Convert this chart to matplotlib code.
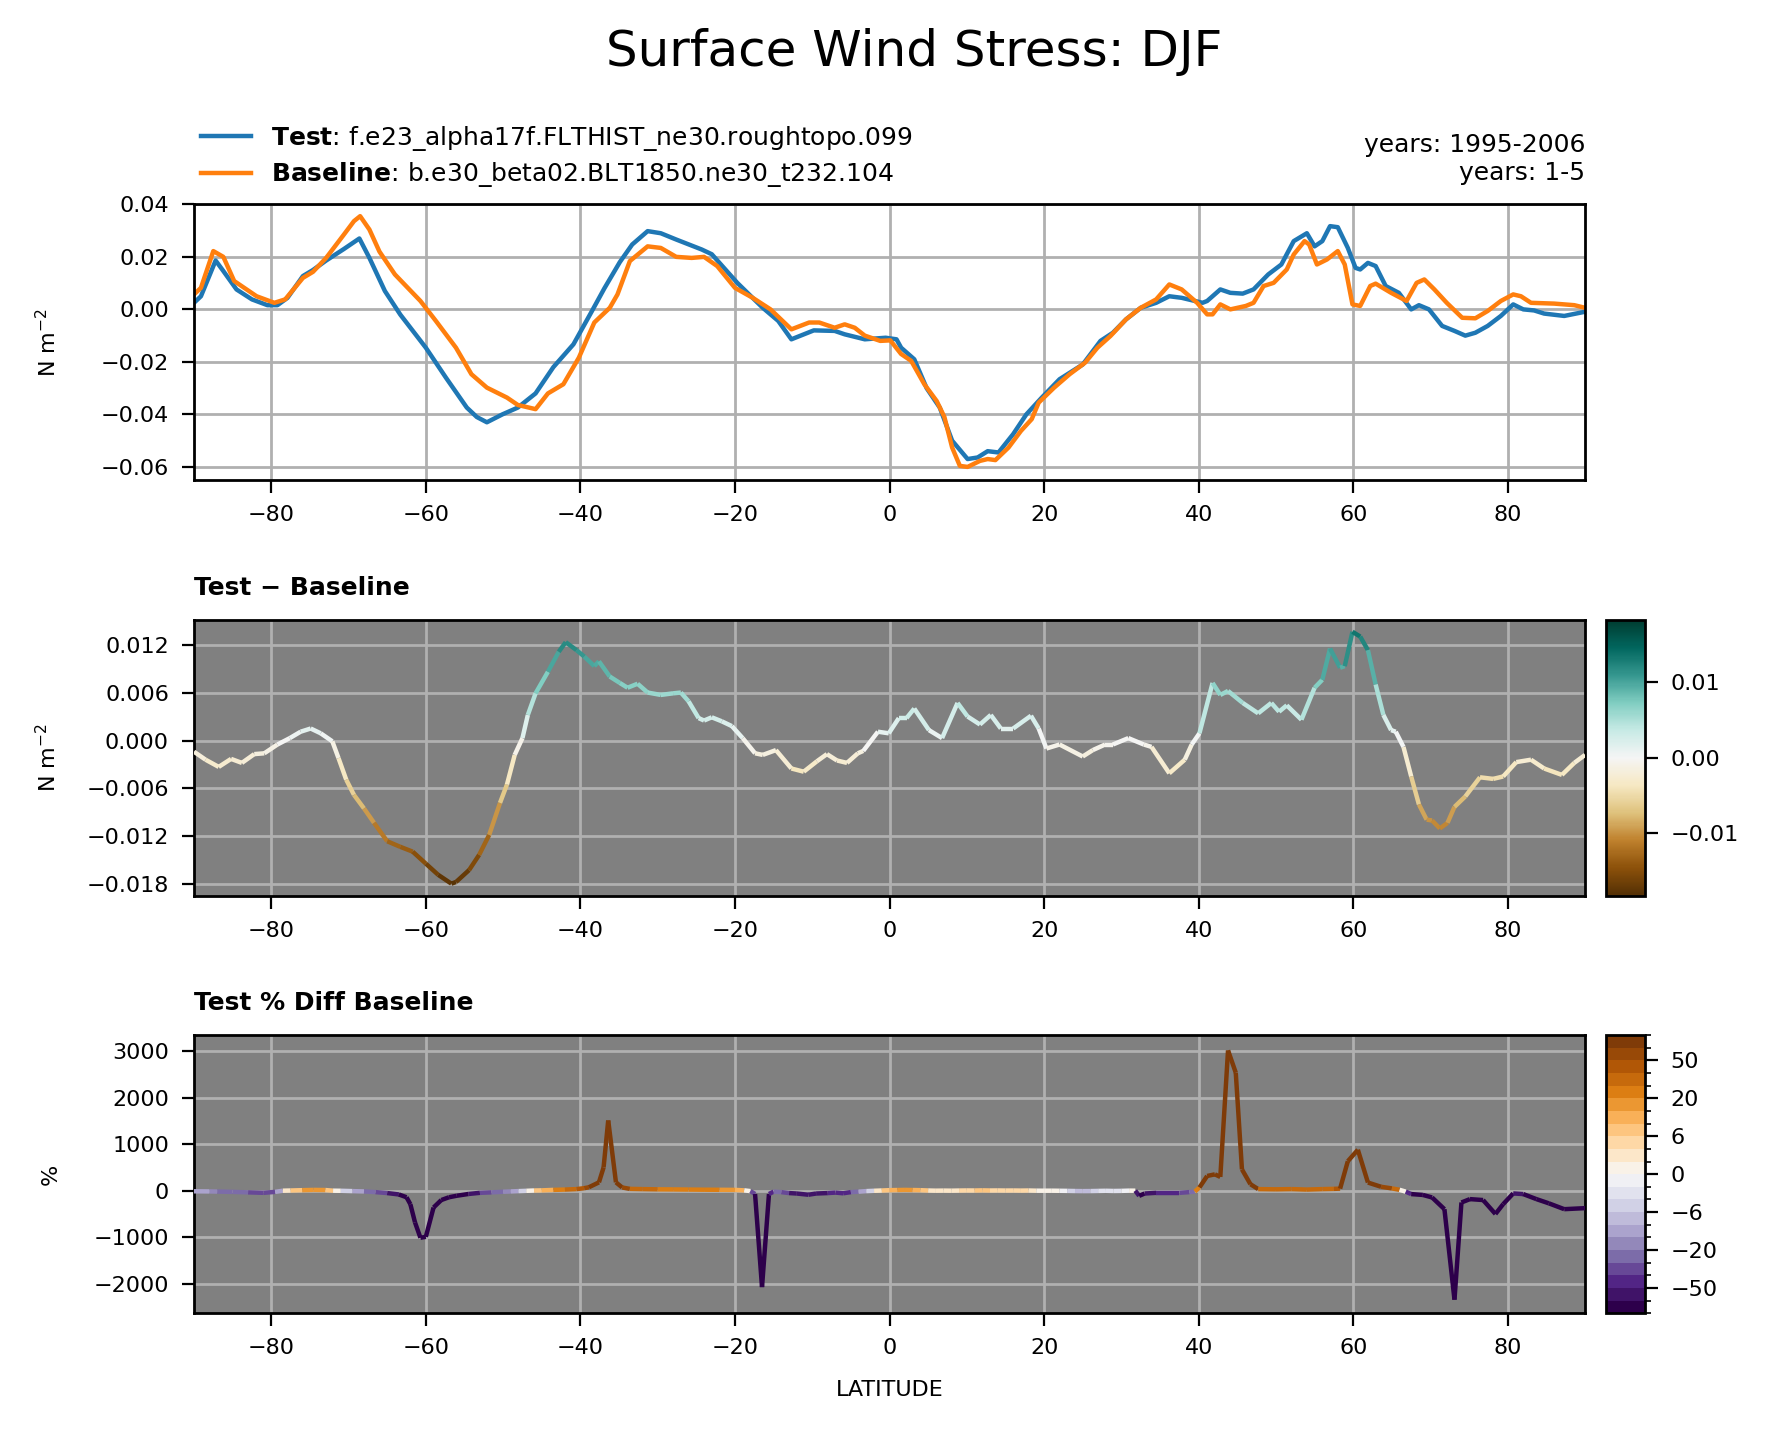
import numpy as np
import matplotlib
matplotlib.use("Agg")
import matplotlib.pyplot as plt
from matplotlib.collections import LineCollection
from matplotlib.colors import Normalize, BoundaryNorm
from matplotlib.cm import ScalarMappable

# ------------------ DATA ------------------
test_name = "f.e23_alpha17f.FLTHIST_ne30.roughtopo.099"
base_name = "b.e30_beta02.BLT1850.ne30_t232.104"
test_years = "years: 1995-2006"
base_years = "years: 1-5"

lat_test = [-90, -89.1, -87.2, -86.2, -84.5, -82.5, -80.5, -79.2, -77.9, -75.9,
            -74.6, -72.9, -70.6, -68.6, -67.3, -65.3, -63.3, -60, -57.4, -54.7,
            -53.4, -52.1, -50.1, -48.1, -45.8, -43.5, -40.9, -38.5, -36.9, -34.9,
            -33.3, -31.3, -29.6, -27.6, -24.3, -23, -19.7, -16.4, -14.4, -12.7,
            -9.8, -7.1, -5.8, -3.2, -0.5, 0.9, 1.5, 3.2, 4.8, 6.5,
            8.1, 10.1, 11.4, 12.7, 14.1, 16, 17.7, 19.7, 22, 25,
            27.3, 28.9, 30.6, 32.5, 34.5, 36.2, 37.8, 40.5, 41.1, 42.8,
            44.1, 45.7, 47.1, 49, 50.7, 52.3, 54, 55, 56, 57,
            58, 59.3, 60.3, 60.9, 61.9, 62.9, 64.2, 65.9, 67.5, 68.5,
            69.8, 71.5, 73.1, 74.5, 75.8, 77.4, 79.1, 80.7, 82, 83.4,
            84.7, 87.3, 90]
test = [0.0025, 0.005, 0.0186, 0.0146, 0.0076, 0.0038, 0.0016, 0.0016, 0.0044, 0.0127,
        0.015, 0.0186, 0.023, 0.027, 0.0196, 0.007, -0.002, -0.0146, -0.026, -0.0374,
        -0.041, -0.043, -0.040, -0.0374, -0.032, -0.022, -0.0133, -0.0006, 0.008, 0.018,
        0.0247, 0.0298, 0.029, 0.0266, 0.0228, 0.021, 0.0101, 0.0006, -0.0044, -0.0114,
        -0.008, -0.0082, -0.0095, -0.0114, -0.0108, -0.0114, -0.0146, -0.019, -0.030, -0.0374,
        -0.050, -0.057, -0.0564, -0.054, -0.0545, -0.0475, -0.040, -0.0336, -0.0266, -0.021,
        -0.012, -0.0089, -0.0038, 0.0006, 0.0025, 0.005, 0.0044, 0.0025, 0.0032, 0.0076,
        0.0063, 0.006, 0.0076, 0.0133, 0.0171, 0.026, 0.029, 0.024, 0.026, 0.0317,
        0.0313, 0.0234, 0.0158, 0.0152, 0.0177, 0.0165, 0.0089, 0.0063, 0.0, 0.0016,
        0.0, -0.0063, -0.0082, -0.010, -0.0089, -0.0063, -0.0025, 0.0019, 0.0, -0.0004,
        -0.0016, -0.0025, -0.0009]

lat_base = [-90, -89.1, -87.5, -86.2, -84.8, -83.5, -81.9, -79.6, -78.2, -75.9,
            -74.6, -72.9, -70.6, -69.3, -68.5, -67.3, -66, -64, -60.7, -58.7,
            -56.1, -54.1, -52.1, -49.5, -48.1, -45.8, -44.2, -42.2, -40.2, -38.2,
            -36.2, -35.2, -33.6, -31.3, -29.6, -27.6, -25.6, -24, -22.3, -20,
            -17.7, -15.4, -12.7, -10.4, -9.1, -7.1, -5.8, -4.5, -3.2, -1.2,
            0.1, 1.5, 2.8, 4.5, 6.1, 7.1, 8.1, 9.1, 10.1, 11.7,
            12.7, 13.7, 15.4, 17, 18.4, 19.3, 21.3, 23.3, 25.3, 26.9,
            28.6, 30.6, 32.5, 34.5, 36.2, 37.8, 39.8, 41.1, 41.8, 42.8,
            44.1, 46.1, 47.1, 48.4, 49.7, 51.4, 52.3, 53.7, 54.3, 55.3,
            56.6, 58, 58.9, 59.9, 60.9, 62.2, 62.9, 64.9, 66.9, 68.2,
            69.2, 70.5, 72.1, 74.1, 75.8, 77.4, 79.1, 80.7, 81.7, 83,
            86, 88.6, 90]
base = [0.0057, 0.0082, 0.0222, 0.020, 0.0108, 0.0082, 0.005, 0.0025, 0.0038, 0.012,
        0.0143, 0.0196, 0.0285, 0.0336, 0.0355, 0.0304, 0.022, 0.0133, 0.0032, -0.0044,
        -0.0146, -0.0247, -0.0298, -0.0336, -0.0364, -0.038, -0.032, -0.0285, -0.0184, -0.005,
        0.0006, 0.0057, 0.0184, 0.024, 0.0234, 0.020, 0.0196, 0.020, 0.0165, 0.0082,
        0.0044, 0.0, -0.0076, -0.005, -0.005, -0.007, -0.0057, -0.007, -0.010, -0.012,
        -0.0118, -0.017, -0.0196, -0.0285, -0.0349, -0.041, -0.0526, -0.0596, -0.060, -0.0577,
        -0.057, -0.0574, -0.0526, -0.0463, -0.0418, -0.0355, -0.0298, -0.0247, -0.0203, -0.0146,
        -0.0101, -0.0038, 0.0006, 0.0038, 0.0095, 0.0076, 0.0025, -0.0019, -0.0019, 0.0019,
        0.0, 0.0013, 0.0025, 0.0089, 0.0101, 0.0152, 0.0209, 0.026, 0.0247, 0.0171,
        0.019, 0.0222, 0.0171, 0.0019, 0.0013, 0.0089, 0.0098, 0.0063, 0.0032, 0.0101,
        0.0114, 0.0076, 0.0025, -0.0032, -0.0034, -0.0006, 0.0032, 0.0057, 0.005, 0.0025,
        0.0022, 0.0016, 0.0006]

lat_diff = [-90, -88.5, -86.8, -85.2, -83.8, -82.2, -80.9, -79.2, -77.6, -76.2,
            -74.9, -73.6, -72.1, -71.3, -70.3, -69.3, -68, -66.7, -65, -63.3,
            -61.7, -60, -58.4, -56.7, -56.1, -54.4, -53.1, -51.8, -50.4, -49.5,
            -48.5, -47.5, -46.8, -45.8, -44.2, -42.8, -41.9, -40.5, -39.5, -38.2,
            -37.6, -36.2, -34.9, -33.9, -32.6, -31.3, -29.6, -28, -27, -26,
            -24.7, -24, -23, -21.7, -20.4, -19, -17.4, -16.4, -14.7, -12.7,
            -11.1, -9.4, -8.1, -6.8, -5.5, -4.1, -3.4, -1.5, -0.1, 1.2,
            2.2, 3.2, 5.1, 6.8, 8.8, 10.1, 11.7, 13.1, 14.4, 16,
            18.3, 19.3, 20.3, 22, 25, 26.3, 27.9, 28.9, 30.9, 32.9,
            33.9, 36.2, 38.2, 39.1, 40.1, 41.8, 42.8, 43.8, 45.7, 47.7,
            49.4, 50.4, 51.4, 53.3, 55, 56, 57, 58.3, 58.9, 59.9,
            60.9, 61.9, 62.9, 63.9, 64.9, 65.5, 66.5, 67.5, 68.5, 69.5,
            70.2, 71.2, 72.2, 73.1, 74.5, 76.4, 78.1, 79.4, 81.1, 83,
            84.7, 87, 88.6, 90]
diff = [-0.0014, -0.0024, -0.0033, -0.0023, -0.0028, -0.0017, -0.0016, -0.0005, 0.0003, 0.0011,
        0.0015, 0.0009, -0.0001, -0.0022, -0.0049, -0.0068, -0.0085, -0.0103, -0.0126, -0.0133,
        -0.0139, -0.0154, -0.0168, -0.0179, -0.0177, -0.0162, -0.0143, -0.0118, -0.0078, -0.0055,
        -0.0018, 0.0003, 0.0032, 0.0059, 0.0086, 0.0111, 0.0123, 0.0113, 0.0105, 0.0093,
        0.0099, 0.0080, 0.0072, 0.0066, 0.0071, 0.0060, 0.0057, 0.0059, 0.0060, 0.0049,
        0.0028, 0.0025, 0.0029, 0.0024, 0.0018, 0.0003, -0.0016, -0.0018, -0.0012, -0.0035,
        -0.0039, -0.0026, -0.0017, -0.0025, -0.0028, -0.0016, -0.0013, 0.0011, 0.0009, 0.0028,
        0.0028, 0.0040, 0.0013, 0.0003, 0.0047, 0.0030, 0.0020, 0.0032, 0.0015, 0.0015,
        0.0031, 0.0015, -0.0010, -0.0005, -0.0020, -0.0012, -0.0005, -0.0005, 0.0003, -0.0005,
        -0.0008, -0.0041, -0.0024, -0.0005, 0.0009, 0.0072, 0.0057, 0.0062, 0.0047, 0.0034,
        0.0047, 0.0036, 0.0044, 0.0026, 0.0066, 0.0076, 0.0115, 0.0091, 0.0093, 0.0136,
        0.0130, 0.0113, 0.0070, 0.0032, 0.0013, 0.0011, -0.0008, -0.0045, -0.0080, -0.0099,
        -0.0100, -0.0110, -0.0103, -0.0083, -0.0070, -0.0046, -0.0048, -0.0045, -0.0027, -0.0024,
        -0.0035, -0.0043, -0.0028, -0.0018]

lat_pct = [-90, -88, -87, -85, -83, -81, -79.5, -78.5, -77.5, -76,
           -74.5, -73, -72, -71, -69.5, -68, -66.5, -65, -63.5, -62.5,
           -62, -61.4, -60.7, -60, -59, -58, -57, -56, -54.5, -53,
           -51.5, -50, -49, -48, -47, -46, -45, -43.5, -42, -40.5,
           -39.5, -38.9, -37.6, -37, -36.4, -35.4, -34.6, -33.6, -32, -30,
           -28, -26, -24, -22, -20, -18.8, -18, -17.4, -16.5, -15.6,
           -15, -14, -13, -12, -10.5, -9.5, -8, -7, -6, -5,
           -4, -3, -2, -1, 0, 1, 2, 3, 4, 5,
           6, 7, 8, 9, 10, 11, 12, 13, 14, 15,
           16, 17, 18, 19, 20, 21, 22, 23, 24, 25,
           26, 27, 28, 29, 30, 31, 31.8, 32.3, 33, 34.5,
           36, 37.5, 38.8, 39.5, 40.1, 41.1, 42.1, 42.8, 43.8, 44.8,
           45.6, 46.7, 47.7, 50, 52, 54, 56, 57.5, 58.3, 59.3,
           60.6, 61.9, 63.6, 65, 66, 66.8, 67.5, 69, 70.2, 71.8,
           73.1, 74, 75.1, 76.8, 78.4, 79.4, 80.7, 82, 83.7, 85.3,
           87.3, 90]
pct = [-12, -15, -18, -25, -35, -45, -25, 1, 5, 12,
       18, 15, 1, -1, -8, -15, -30, -50, -80, -140,
       -290, -680, -1010, -990, -360, -200, -140, -108, -70, -45,
       -35, -22, -15, -8, -2, 5, 8, 18, 25, 35,
       55, 75, 180, 500, 1510, 180, 70, 40, 35, 30,
       28, 25, 22, 20, 18, 8, -8, -70, -2070, -70,
       -20, -30, -50, -60, -86, -60, -50, -40, -55, -30,
       -20, -8, -1, 5, 12, 15, 18, 15, 12, 5,
       1, 3, 1, 4, 6, 5, 8, 5, 6, 4,
       5, 3, 5, 1, 0.5, 1, -1, -3, -6, -8,
       -7, -4, -1, -5, -3, 2, 1, -110, -60, -45,
       -45, -45, -30, -18, 70, 317, 352, 296, 3014, 2535,
       458, 140, 35, 30, 35, 25, 35, 40, 45, 634,
       880, 176, 85, 50, 20, -20, -72, -90, -144, -396,
       -2340, -252, -180, -200, -500, -288, -58, -72, -180, -270,
       -396, -374]

pct_levels = [-100, -75, -50, -40, -30, -20, -15, -10, -6, -4, -2, 0,
              2, 4, 6, 10, 15, 20, 30, 40, 50, 75, 100]

# ------------------ STYLE ------------------
plt.rcParams.update({
    "font.family": "DejaVu Sans",
    "xtick.labelsize": 8,
    "ytick.labelsize": 8,
    "xtick.major.size": 4.5,
    "ytick.major.size": 4.5,
    "xtick.major.pad": 4.5,
    "ytick.major.pad": 4.5,
    "axes.linewidth": 1.0,
})
grid_kw = dict(color="#b0b0b0", lw=1.0)

fig = plt.figure(figsize=(8.89, 7.165), dpi=200)
x0, w = 0.1091, 0.7824
ax1 = fig.add_axes([x0, 0.6650, w, 0.1924])
ax2 = fig.add_axes([x0, 0.3750, w, 0.1925])
ax3 = fig.add_axes([x0, 0.0836, w, 0.1940])
cax2 = fig.add_axes([0.9030, 0.3750, 0.0223, 0.1925])
cax3 = fig.add_axes([0.9030, 0.0836, 0.0223, 0.1940])

fig.text(0.514, 0.964, "Surface Wind Stress: DJF", ha="center", va="center",
         fontsize=18)

# ------------------ 1. test & baseline ------------------
ax1.plot(lat_test, test, color="#1f77b4", lw=1.6,
         label=r"$\bf{Test}$: " + test_name)
ax1.plot(lat_base, base, color="#ff7f0e", lw=1.6,
         label=r"$\bf{Baseline}$: " + base_name)
ax1.set_xlim(-90, 90)
ax1.set_ylim(-0.065, 0.04)
ax1.set_yticks([-0.06, -0.04, -0.02, 0.0, 0.02, 0.04])
ax1.set_ylabel(r"N m$^{-2}$", fontsize=8)
ax1.grid(True, **grid_kw)
ax1.set_axisbelow(True)
ax1.legend(loc="lower left", bbox_to_anchor=(-0.006, 1.0), frameon=False,
           fontsize=9, borderaxespad=0.2, labelspacing=0.3)
ax1.text(1.0, 1.07, test_years + "\n" + base_years, transform=ax1.transAxes,
         ha="right", va="bottom", fontsize=9)

# ------------------ helper for coloured lines ------------------
def colored_line(ax, x, y, cmap, norm, lw):
    pts = np.column_stack([x, y]).reshape(-1, 1, 2)
    segs = np.concatenate([pts[:-1], pts[1:]], axis=1)
    vals = 0.5 * (np.asarray(y[:-1]) + np.asarray(y[1:]))
    lc = LineCollection(segs, cmap=cmap, norm=norm, linewidths=lw,
                        capstyle="butt", zorder=3)
    lc.set_array(vals)
    ax.add_collection(lc)
    return lc

# ------------------ 2. difference ------------------
diff_cmap = plt.get_cmap("BrBG")
diff_norm = Normalize(-0.0182, 0.0182)
colored_line(ax2, lat_diff, diff, diff_cmap, diff_norm, 1.6)
ax2.set_facecolor("#808080")
ax2.set_xlim(-90, 90)
ax2.set_ylim(-0.0194, 0.0151)
ax2.set_yticks([-0.018, -0.012, -0.006, 0.0, 0.006, 0.012])
ax2.set_ylabel(r"N m$^{-2}$", fontsize=8)
ax2.grid(True, **grid_kw)
ax2.set_axisbelow(True)
ax2.set_title("Test \u2212 Baseline", loc="left", fontsize=9,
              fontweight="bold", pad=9)
cb2 = fig.colorbar(ScalarMappable(norm=diff_norm, cmap=diff_cmap), cax=cax2,
                   ticks=[-0.01, 0.0, 0.01])
cb2.ax.tick_params(labelsize=8)

# ------------------ 3. percent difference ------------------
pct_cmap = plt.get_cmap("PuOr_r", len(pct_levels) - 1)
pct_norm = BoundaryNorm(pct_levels, pct_cmap.N)
colored_line(ax3, lat_pct, pct, pct_cmap, pct_norm, 1.6)
ax3.set_facecolor("#808080")
ax3.set_xlim(-90, 90)
ax3.set_ylim(-2630, 3340)
ax3.set_yticks([-2000, -1000, 0, 1000, 2000, 3000])
ax3.set_ylabel("%", fontsize=8)
ax3.set_xlabel("LATITUDE", fontsize=8, labelpad=8)
ax3.grid(True, **grid_kw)
ax3.set_axisbelow(True)
ax3.set_title("Test % Diff Baseline", loc="left", fontsize=9,
              fontweight="bold", pad=9)
cb3 = fig.colorbar(ScalarMappable(norm=pct_norm, cmap=pct_cmap), cax=cax3,
                   ticks=pct_levels[2::3])
cb3.ax.set_yticks(pct_levels, minor=True)
cb3.ax.tick_params(labelsize=8)

for ax in (ax1, ax2, ax3):
    ax.set_xticks([-80, -60, -40, -20, 0, 20, 40, 60, 80])
    ax.yaxis.set_label_coords(-0.096, 0.5)

fig.savefig("out.png", dpi=200)
